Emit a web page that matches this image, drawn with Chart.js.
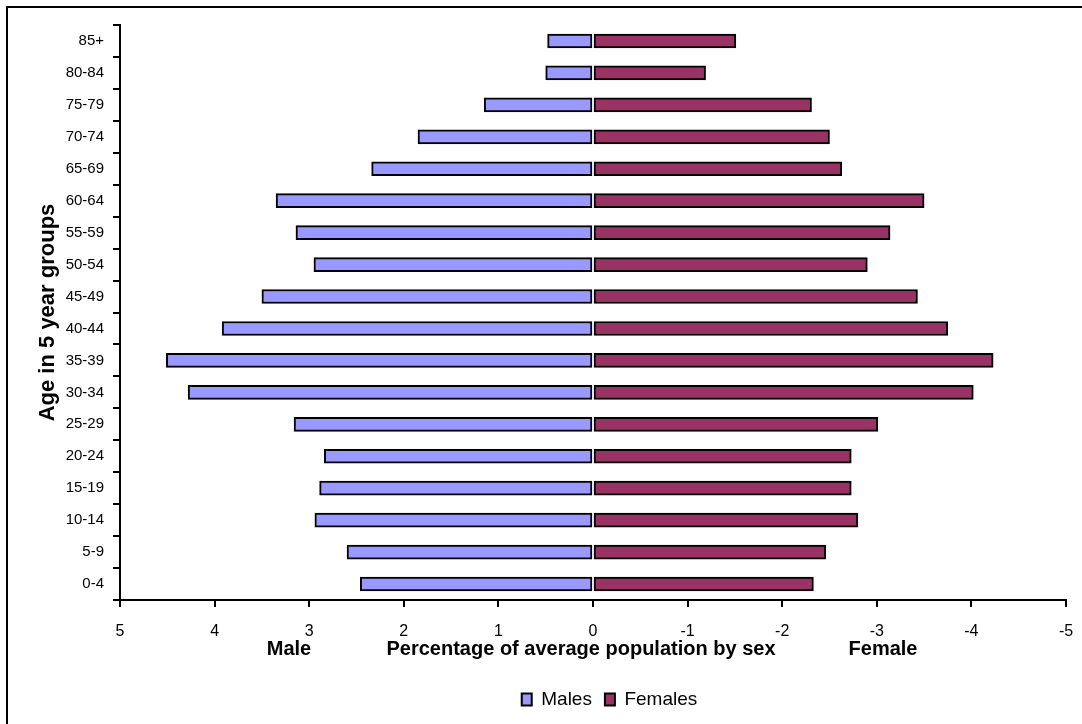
<!DOCTYPE html>
<html>
<head>
<meta charset="utf-8">
<script src="https://cdn.jsdelivr.net/npm/chart.js@4.4.1/dist/chart.umd.min.js"></script>
<style>
  html, body { margin: 0; padding: 0; background: #fff; overflow: hidden; }
  #wrap { position: relative; width: 1082px; height: 724px; }
  #frame { position: absolute; left: 6px; top: 6px; width: 2000px; height: 2000px; border: 2px solid #000; box-sizing: border-box; }
  canvas { position: absolute; left: 0; top: 0; }
</style>
</head>
<body>
<div id="wrap">
  <div id="frame"></div>
  <canvas id="c" width="1082" height="724"></canvas>
</div>
<script>
const categories = ['0-4','5-9','10-14','15-19','20-24','25-29','30-34','35-39','40-44','45-49','50-54','55-59','60-64','65-69','70-74','75-79','80-84','85+'];
const males   = [2.46, 2.60, 2.94, 2.89, 2.84, 3.16, 4.28, 4.51, 3.92, 3.50, 2.95, 3.14, 3.35, 2.34, 1.85, 1.15, 0.50, 0.48];
const females = [-2.33, -2.46, -2.80, -2.73, -2.73, -3.01, -4.02, -4.23, -3.75, -3.43, -2.90, -3.14, -3.50, -2.63, -2.50, -2.31, -1.19, -1.51];
const seriesNames = ['Males', 'Females'];
const xAxisLabels = ['Male', 'Percentage of average population by sex', 'Female'];
const yAxisTitle = 'Age in 5 year groups';

const FONT = '"Liberation Sans", Arial, Helvetica, sans-serif';
Chart.defaults.font.family = FONT;
Chart.defaults.color = '#000';

const extraText = {
  id: 'extraText',
  afterLayout(chart) {
    const lg = chart.legend;
    if (lg) {
      const pad = lg.options.labels.padding;
      const cur = (lg.left + pad + lg.right) / 2;
      const dx = 616 - cur;
      lg.left += dx; lg.right += dx;
    }
  },
  afterDraw(chart) {
    const ctx = chart.ctx;
    const ca = chart.chartArea;
    ctx.save();
    ctx.fillStyle = '#000';
    ctx.font = 'bold 20px ' + FONT;
    ctx.textAlign = 'center';
    ctx.textBaseline = 'middle';
    const y = ca.bottom + 49;
    ctx.fillText(xAxisLabels[0], 289, y);
    ctx.fillText(xAxisLabels[1], 581, y);
    ctx.fillText(xAxisLabels[2], 883, y);
    ctx.restore();
  }
};

new Chart(document.getElementById('c'), {
  type: 'bar',
  data: {
    labels: categories,
    datasets: [
      { label: seriesNames[0], data: males, backgroundColor: '#9999FF', borderColor: '#000', borderWidth: 2, borderSkipped: false, barThickness: 14 },
      { label: seriesNames[1], data: females, backgroundColor: '#993366', borderColor: '#000', borderWidth: 2, borderSkipped: false, barThickness: 14 }
    ]
  },
  options: {
    indexAxis: 'y',
    responsive: false,
    animation: false,
    layout: { padding: { left: 10, right: 16, top: 25, bottom: 5 } },
    scales: {
      x: {
        stacked: true,
        reverse: true,
        min: -5, max: 5,
        ticks: { stepSize: 1, font: { size: 16 }, color: '#000', padding: 15, maxRotation: 0 },
        grid: { drawOnChartArea: false, color: '#000', lineWidth: 2, tickLength: 7 },
        border: { display: true, color: '#000', width: 2 },
        afterFit(s) { s.height = 77; s.paddingLeft = 0; s.paddingRight = 0; }
      },
      y: {
        stacked: true,
        reverse: true,
        ticks: { font: { size: 15 }, color: '#000', padding: 9 },
        grid: { drawOnChartArea: false, color: '#000', lineWidth: 2, tickLength: 7, offset: true },
        border: { display: true, color: '#000', width: 2 },
        title: { display: true, text: yAxisTitle, font: { size: 22, weight: 'bold' }, color: '#000', padding: { top: 25, bottom: 0 } },
        afterFit(s) { s.width = 110; }
      }
    },
    plugins: {
      legend: {
        position: 'bottom',
        labels: { font: { size: 19 }, color: '#000', boxWidth: 10, boxHeight: 12, padding: 13 }
      },
      tooltip: { enabled: false }
    }
  },
  plugins: [extraText]
});
</script>
</body>
</html>
